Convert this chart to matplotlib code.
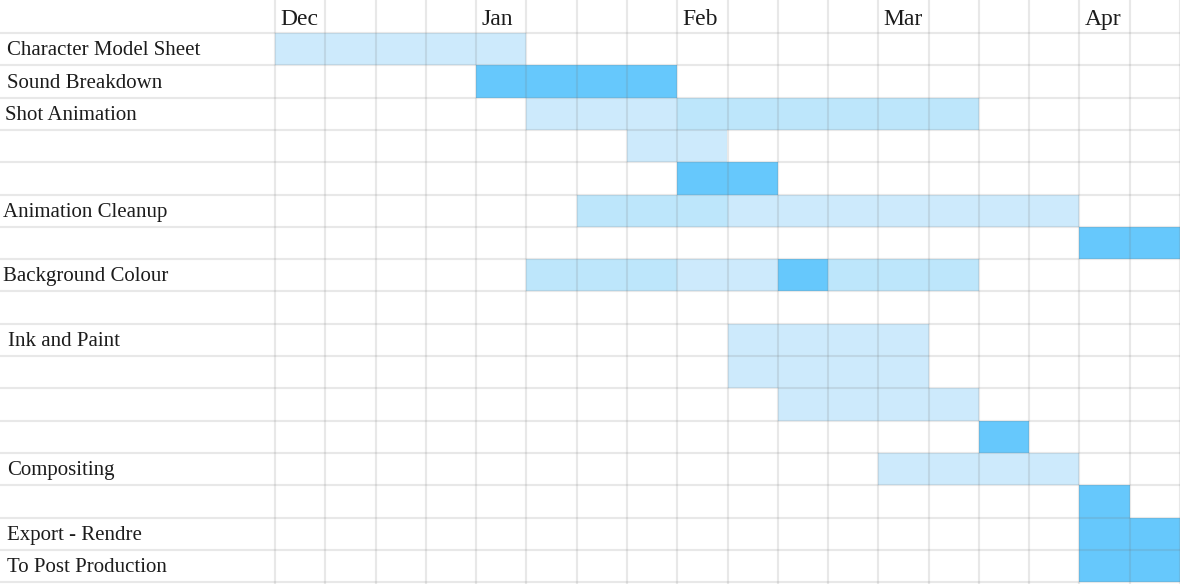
import matplotlib.pyplot as plt

# task rows, top to bottom (blank rows are sub-tasks without a name)
row_labels = [
    "Character Model Sheet", "Sound Breakdown", "Shot Animation", "", "",
    "Animation Cleanup", "", "Background Colour", "", "Ink and Paint",
    "", "", "", "Compositing", "", "Export - Rendre", "To Post Production",
]
# label x offsets in px, the text is not perfectly aligned
label_dx = [7, 7, 5, 0, 0, 3, 0, 3, 0, 8, 0, 0, 0, 7, 0, 7, 7]

# weeks across the top, month names sit on the first week of the month
n_weeks = 18
month_names = ["Dec", "Jan", "Feb", "Mar", "Apr"]
month_week = [0, 4, 8, 12, 16]

# bar segments: row, first week, number of weeks, shade
bar_row = [0, 1, 2, 2, 3, 4, 5, 5, 6, 7, 7, 7, 7, 9, 10, 11, 12, 13, 14, 15, 16]
bar_start = [0, 4, 5, 8, 7, 8, 6, 9, 16, 5, 8, 10, 11, 9, 9, 10, 14, 12, 16, 16, 16]
bar_len = [5, 4, 3, 6, 2, 2, 3, 7, 2, 3, 2, 1, 3, 4, 4, 4, 1, 4, 1, 2, 2]
bar_shade = ["light", "dark", "light", "medium", "light", "dark", "medium",
             "light", "dark", "medium", "light", "dark", "medium", "light",
             "light", "light", "dark", "light", "dark", "dark", "dark"]

shades = {"light": "#cdeafc", "medium": "#bde6fb", "dark": "#66c8fc"}

W, H = 1180, 584
left_px, head_px, row_px = 275, 33, 32.3
n_rows = len(row_labels)

fig = plt.figure(figsize=(W / 100, H / 100), dpi=100)
ax = fig.add_axes([left_px / W, 0, 1 - left_px / W, 1])
ax.set_xlim(0, n_weeks)
ax.set_ylim((H - head_px) / row_px, -head_px / row_px)
ax.axis("off")

serif = ["Liberation Serif", "DejaVu Serif"]
col_w = (W - left_px) / n_weeks
x_left = -left_px / col_w  # left figure edge in week units

for r, s, n, c in zip(bar_row, bar_start, bar_len, bar_shade):
    ax.barh(r + 0.5, n, left=s, height=1.0, color=shades[c], zorder=1)

# grid on top of the bars so lines still show through them
grid_col = (0.45, 0.45, 0.45, 0.16)
ax.vlines(range(n_weeks + 1), -head_px / row_px, (H - head_px) / row_px,
          color=grid_col, lw=1.5, zorder=2, clip_on=False)
ax.hlines(range(n_rows + 1), x_left, n_weeks, color=grid_col, lw=1.5,
          zorder=2, clip_on=False)

for name, wk in zip(month_names, month_week):
    ax.text(wk + 5 / col_w, -0.42, name, fontsize=17, family=serif,
            ha="left", va="center", color="#1c1c1c")

for i, (lab, dx) in enumerate(zip(row_labels, label_dx)):
    if lab:
        ax.text(x_left + dx / col_w, i + 0.55, lab, fontsize=15,
                family=serif, ha="left", va="center", color="#1c1c1c",
                clip_on=False)

fig.savefig("out.png", dpi=100)
